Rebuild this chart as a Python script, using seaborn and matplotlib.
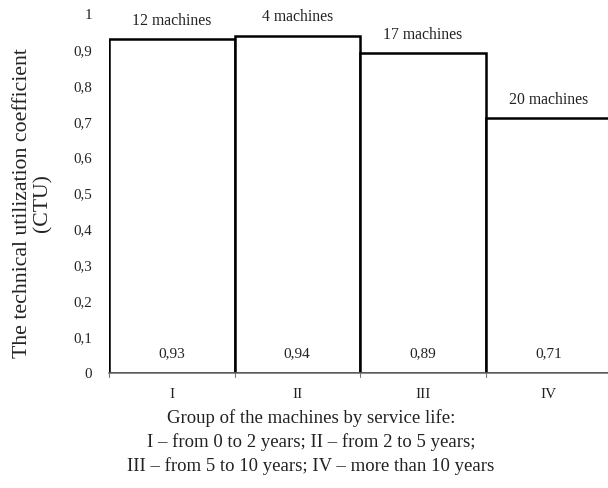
import matplotlib
matplotlib.use("Agg")
import matplotlib.pyplot as plt
import seaborn as sns
import pandas as pd

groups = ["I", "II", "III", "IV"]
ctu = [0.93, 0.94, 0.89, 0.71]
machines = ["12 machines", "4 machines", "17 machines", "20 machines"]
value_labels = ["0,93", "0,94", "0,89", "0,71"]
ytick_vals = [0, 0.1, 0.2, 0.3, 0.4, 0.5, 0.6, 0.7, 0.8, 0.9, 1.0]
ytick_labels = ["0", "0,1", "0,2", "0,3", "0,4", "0,5", "0,6", "0,7", "0,8", "0,9", "1"]

sns.set_theme(style="white")
plt.rcParams["font.family"] = ["Liberation Serif", "DejaVu Serif"]

df = pd.DataFrame({"group": groups, "ctu": ctu})

W, H = 608, 488
x0, x1 = 109, 611
y0 = 373
fig = plt.figure(figsize=(W / 100, H / 100), dpi=100)
ax = fig.add_axes([x0 / W, (H - y0) / H, (x1 - x0) / W, y0 / H])

sns.barplot(data=df, x="group", y="ctu", order=groups, color="white",
            edgecolor="black", linewidth=1.8, width=1.0, ax=ax)

ax.set_xlim(-0.5, 3.5)
ax.set_ylim(0, y0 / 359)

txt = "#222222"
for i, (v, m, vl) in enumerate(zip(ctu, machines, value_labels)):
    ax.text(i, v + 0.028, m, ha="center", va="bottom", fontsize=11.3, color=txt)
    ax.text(i, 0.055, vl, ha="center", va="center", fontsize=11, color=txt)

ax.set_yticks(ytick_vals)
ax.set_yticklabels(ytick_labels, fontsize=10.8, color=txt)
ax.set_xticks(range(len(groups)))
ax.set_xticklabels(groups, fontsize=11, color=txt)
ax.tick_params(axis="y", length=0, pad=12)
ax.tick_params(axis="x", length=0, pad=11)

for b in [-0.5, 0.5, 1.5, 2.5]:
    ax.plot([b, b], [0, -0.012], color="#777777", lw=0.8, clip_on=False)

for s in ["top", "right", "left"]:
    ax.spines[s].set_visible(False)
ax.spines["bottom"].set_color("#666666")
ax.spines["bottom"].set_linewidth(1.1)

ax.set_ylabel("The technical utilization coefficient\n(CTU)", fontsize=15.7,
              color=txt, linespacing=1.1)
ax.yaxis.set_label_coords((33 - x0) / (x1 - x0), (y0 - 203) / y0)
ax.yaxis.label.set_va("center")

ax.set_xlabel("Group of the machines by service life:\n"
              "I \u2013 from 0 to 2 years; II \u2013 from 2 to 5 years;\n"
              "III \u2013 from 5 to 10 years; IV \u2013 more than 10 years",
              fontsize=13.5, color=txt, linespacing=1.46)
ax.xaxis.set_label_coords((311 - x0) / (x1 - x0), -36 / y0)
ax.xaxis.label.set_va("top")

fig.savefig("out.png", dpi=100, facecolor="white")
